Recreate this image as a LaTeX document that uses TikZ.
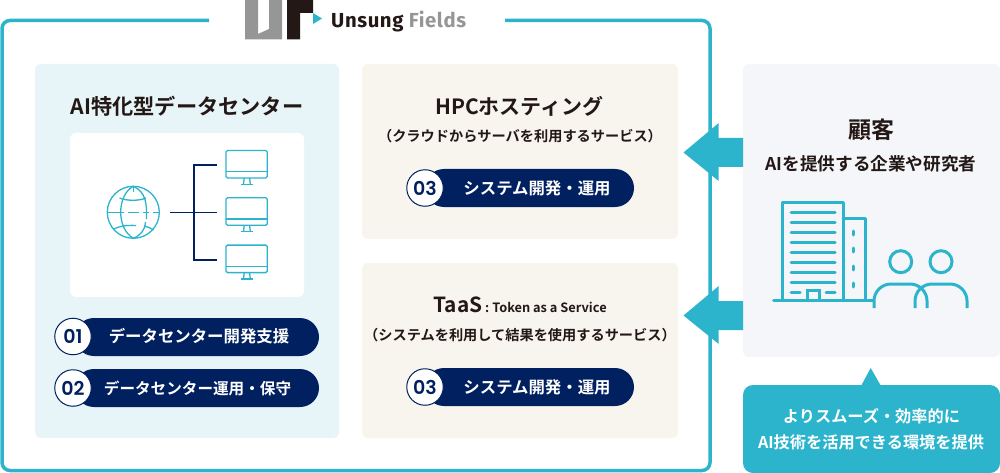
\documentclass[tikz,border=0pt]{standalone}
\usepackage{fontspec}
\setmainfont{Noto Sans CJK JP}[BoldFont={Noto Sans CJK JP Bold}]
\newfontfamily\logofont{Fira Sans}[BoldFont={Fira Sans Bold},LetterSpace=3]
\newfontfamily\numfont{Poppins}[BoldFont={Poppins SemiBold}]
\definecolor{teal1}{HTML}{2CB4CD}
\definecolor{navy1}{HTML}{00205F}
\definecolor{lblue}{HTML}{E8F5F8}
\definecolor{beige}{HTML}{F8F5EE}
\definecolor{lgray}{HTML}{F4F6F9}
\definecolor{ink}{HTML}{231815}
\definecolor{logogray}{HTML}{969696}
\tikzset{
  panel/.style={rounded corners=6pt},
  txt/.style={font=\bfseries, text=ink, inner sep=0pt, anchor=center},
  pill/.style={fill=navy1, rounded corners=19pt},
  pilltxt/.style={font=\bfseries\fontsize{16.4}{16.4}\selectfont, text=white, inner sep=0pt},
  numc/.style={circle, draw=navy1, line width=1pt, fill=white, minimum size=36.5pt, inner sep=0pt, text=navy1, font=\numfont\bfseries\fontsize{19}{19}\selectfont},
  icon/.style={draw=teal1, line width=1.3pt},
  iconb/.style={draw=teal1, line width=3pt, line cap=round},
  tree/.style={draw=navy1, line width=1.2pt},
}
\begin{document}
\begin{tikzpicture}[x=1pt,y=-1pt]
\useasboundingbox (0,0) rectangle (1000,473);
% frame
\coordinate (fa) at (209,20.5);
\coordinate (fb) at (505,20.5);
\draw[teal1, line width=3.5pt, rounded corners=8pt] (fa) -- (2,20.5) -- (2,470.5) -- (710,470.5) -- (710,20.5) -- (fb);
% logo
\fill[logogray] (245,0) -- (258,0) -- (258,34) -- (269,29) -- (269,0) -- (282,0) -- (282,39.5) -- (245,39.5) -- cycle;
\fill[ink] (287,0) -- (313,0) -- (313,13) -- (300,13) -- (300,39.5) -- (287,39.5) -- cycle;
\fill[teal1] (313,13) -- (322,18.5) -- (313,24) -- cycle;
\node[inner sep=0pt, anchor=base west] (logo) at (331,27.5) {\logofont\bfseries\fontsize{20.3}{21}\selectfont\textcolor{ink}{Unsung} \textcolor{logogray}{Fields}};
% panels
\fill[lblue, panel] (35,64) rectangle (339,438);
\fill[white, panel] (70,133) rectangle (304,297);
\fill[beige, panel] (362,64) rectangle (678,239);
\fill[beige, panel] (362,263) rectangle (678,438);
\fill[lgray, panel] (743,64) rectangle (1000,357);
% arrows
\fill[teal1] (743,138) -- (718.7,138) -- (718.7,123) -- (683.5,152.5) -- (718.7,181) -- (718.7,167) -- (743,167) -- cycle;
\fill[teal1] (743,301) -- (718.7,301) -- (718.7,286) -- (683.5,315.5) -- (718.7,344) -- (718.7,330) -- (743,330) -- cycle;
% callout
\fill[teal1, rounded corners=10pt] (743,385) rectangle (1000,473);
\fill[teal1] (861,386) -- (870.7,368) -- (881,386) -- cycle;
% left title
\node[txt, font=\bfseries\fontsize{21.2}{21}\selectfont] (t1) at (187,106) {AI特化型データセンター};
% globe
\begin{scope}[icon]
\draw (133.3,212.3) circle (26);
\draw (107.3,212.3) -- (124,212.3) (128,212.3) -- (139,212.3) (143,212.3) -- (149,212.3) (153,212.3) -- (159.3,212.3);
\draw (133.3,186.3) -- (133.3,192);
\draw (133.3,186.3) .. controls (117,195) and (116,228) .. (133.3,238.3);
\draw (133.3,186.3) .. controls (146,192) and (147,204) .. (146.5,219);
\draw (145.5,222) .. controls (145,230) and (141,235) .. (133.3,238.3);
\draw (119.5,198) .. controls (126,201) and (140,201) .. (146,198);
\draw (113,229.5) .. controls (119,226) and (126,225) .. (136,225.5);
\draw (144,226) .. controls (148,227) and (151,228) .. (153.5,230);
\end{scope}
% tree
\coordinate (tr0) at (170,212.5);
\coordinate (tr1) at (217,165);
\coordinate (tr2) at (217,212.5);
\coordinate (tr3) at (217,260);
\draw[tree] (tr0) -- (tr2);
\draw[tree] (tr1) -| (194,260) -- (tr3);
% monitors
\foreach \d in {0,47.3,94.6}{
\begin{scope}[yshift=-\d pt, icon]
\draw[rounded corners=1.5pt] (226,150.5) rectangle (267.3,178);
\draw (226,171.7) -- (267.3,171.7);
\draw (244.2,178) -- (243.5,184.3) (249.6,178) -- (250.3,184.3);
\draw (241,184.3) -- (253,184.3);
\end{scope}}
% pills left
\fill[pill] (75,318) rectangle (319,356);
\node[pilltxt] (p1) at (199,336.5) {データセンター開発支援};
\node[numc] (n1) at (73,336.5) {01};
\fill[pill] (75,369) rectangle (319,407);
\node[pilltxt, font=\bfseries\fontsize{15.6}{16}\selectfont] (p2) at (197.5,388) {データセンター運用・保守};
\node[numc] (n2) at (73,388) {02};
% HPC
\node[txt, font=\bfseries\fontsize{21}{21}\selectfont] (t2) at (519.5,106) {HPCホスティング};
\node[txt, font=\bfseries\fontsize{14.2}{14}\selectfont] (s2) at (520,136) {（クラウドからサーバを利用するサービス）};
\fill[pill] (425,169) rectangle (634,207);
\node[pilltxt] (p3) at (537,188) {システム開発・運用};
\node[numc] (n3) at (425,188) {03};
% TaaS
\node[txt, anchor=base, font=\bfseries\fontsize{20.8}{21}\selectfont] (t3) at (520,312) {TaaS\fontsize{12.8}{13}\selectfont\ : Token as a Service};
\node[txt, font=\bfseries\fontsize{14.2}{14}\selectfont] (s3) at (520,335) {（システムを利用して結果を使用するサービス）};
\fill[pill] (425,368) rectangle (634,406);
\node[pilltxt] (p4) at (537,387) {システム開発・運用};
\node[numc] (n4) at (425,387) {03};
% customer
\node[txt, font=\bfseries\fontsize{23}{23}\selectfont] (c1) at (871,130) {顧客};
\node[txt, font=\bfseries\fontsize{17.6}{18}\selectfont] (c2) at (871,164) {AIを提供する企業や研究者};
% building
\begin{scope}[iconb]
\draw (773.5,300.7) -- (873,300.7);
\draw[line join=round] (782,300.7) -- (782,202) -- (843,202) -- (843,300.7);
\draw[line join=round] (843,218) -- (865,218) -- (865,300.7);
\foreach \y in {212.7,222.7,...,283}{\draw (791,\y) -- (835,\y);}
\draw (791,292.7) -- (800,292.7) (826,292.7) -- (835,292.7);
\draw[line cap=butt] (807,300.7) -- (807,290) -- (819,290) -- (819,300.7);
\draw (853.7,231) -- (853.7,235) (853.7,248) -- (853.7,252) (853.7,266) -- (853.7,270) (853.7,283) -- (853.7,287);
\draw (900.7,261.7) circle (11);
\draw (941,261.7) circle (11);
\draw[line cap=butt, rounded corners=17pt] (874,308) -- (874,284) -- (927,284) -- (927,308);
\draw[line cap=butt, rounded corners=17pt] (915,308) -- (915,284) -- (967,284) -- (967,308);
\end{scope}
% callout text
\node[txt, text=white, font=\bfseries\fontsize{16.2}{16}\selectfont] (k1) at (871.5,416) {よりスムーズ・効率的に};
\node[txt, text=white, font=\bfseries\fontsize{16.2}{16}\selectfont] (k2) at (871,442) {AI技術を活用できる環境を提供};
\end{tikzpicture}
\end{document}
